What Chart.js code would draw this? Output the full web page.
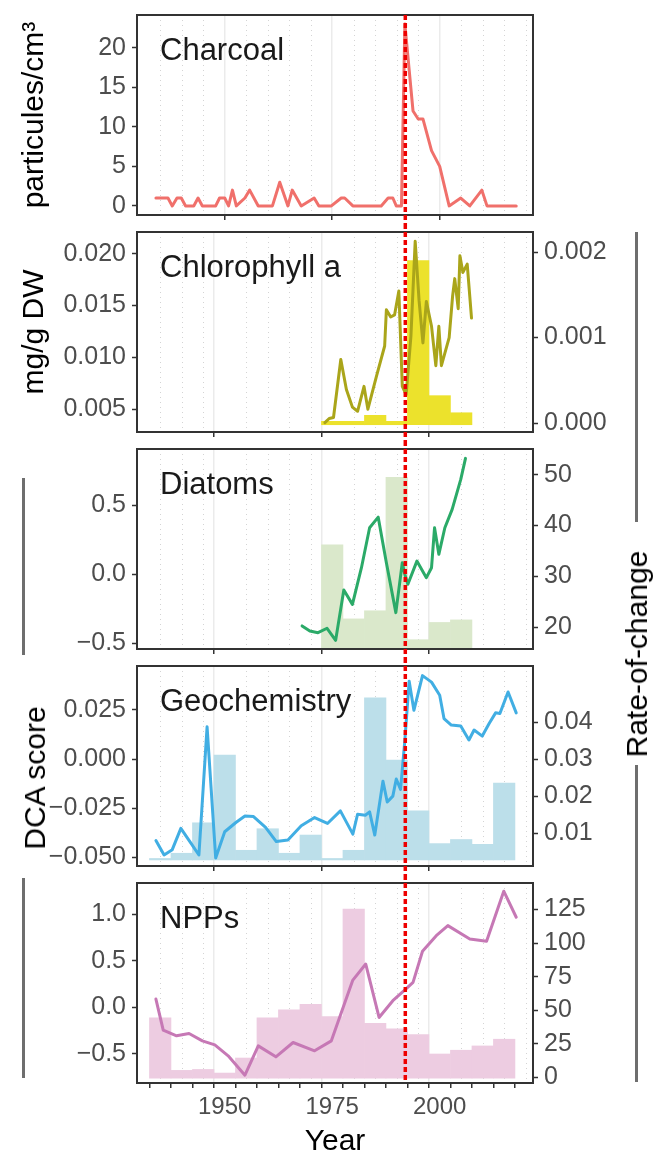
<!DOCTYPE html>
<html>
<head>
<meta charset="utf-8">
<script src="https://cdn.jsdelivr.net/npm/chart.js@4.4.1/dist/chart.umd.min.js"></script>
<style>
  body { margin: 0; background: #fff; width: 658px; height: 1153px; position: relative; overflow: hidden;
         font-family: "Liberation Sans", Arial, sans-serif; }
  canvas { position: absolute; left: 0; }
  .bar { position: absolute; width: 3px; background: #6e6e6e; }
  .side { position: absolute; font-size: 30px; color: #000; white-space: nowrap;
          transform: translate(-50%, -50%) rotate(-90deg); }
</style>
</head>
<body>
<canvas id="c1" width="658" height="224" style="top:0px"></canvas>
<canvas id="c2" width="658" height="217" style="top:224px"></canvas>
<canvas id="c3" width="658" height="217" style="top:441px"></canvas>
<canvas id="c4" width="658" height="217" style="top:658px"></canvas>
<canvas id="c5" width="658" height="285" style="top:875px"></canvas>

<div class="bar" style="left:22px;top:478px;height:177px"></div>
<div class="bar" style="left:22px;top:878px;height:200px"></div>
<div class="side" style="left:35px;top:778px">DCA score</div>

<div class="bar" style="left:635px;top:232px;height:290px"></div>
<div class="bar" style="left:635px;top:765px;height:317px"></div>
<div class="side" style="left:637px;top:654px">Rate-of-change</div>

<script>
// ---------------------------------------- data ----------------------------------------
const eventYear = 1992;
const xTickYears = [1935, 1940, 1945, 1950, 1955, 1960, 1965, 1970, 1975, 1980, 1985, 1990, 1995, 2000, 2005, 2010, 2015, 2020];
const xTickLabels = ['1950', '1975', '2000'];

// charcoal (particules/cm3)
const charcoalYears = [1934.0, 1936.8, 1937.8, 1938.9, 1939.9, 1940.9, 1942.8, 1943.8, 1944.8, 1947.9,
  1948.8, 1950.0, 1950.9, 1951.8, 1952.7, 1954.7, 1955.8, 1957.8, 1961.1, 1962.8,
  1964.7, 1965.7, 1967.8, 1970.8, 1971.9, 1974.8, 1977.1, 1977.9, 1979.8, 1986.4,
  1988.0, 1989.1, 1989.9, 1991.1, 1991.9, 1993.8, 1995.0, 1996.1, 1998.1, 2000.0,
  2002.2, 2004.9, 2007.0, 2009.8, 2011.0, 2017.8];
const charcoalValues = [1, 1, 0, 1, 1, 0, 0, 1, 0, 0,
  1, 1, 0, 2, 0, 1, 2, 0, 0, 3,
  0, 2, 0, 1, 0, 0, 1, 1, 0, 0,
  1, 1, 0, 0, 23, 12, 11, 11, 7, 5,
  0, 1, 0, 2, 0, 0];

// chlorophyll a (mg/g DW)
const chlYears = [1973.3, 1974.3, 1975.3, 1977.0, 1978.3, 1979.7, 1980.9, 1982.4, 1983.3, 1985.3,
  1987.2, 1987.6, 1988.6, 1989.5, 1990.5, 1991.3, 1992.2, 1993.3, 1994.3, 1995.2,
  1996.1, 1996.9, 1998.1, 1999.1, 1999.8, 2000.4, 2002.2, 2003.0, 2003.5, 2004.3,
  2004.7, 2005.4, 2006.4, 2007.4];
const chlValues = [0.0037, 0.0041, 0.0042, 0.0098, 0.0069, 0.0052, 0.0048, 0.0072, 0.0050, 0.0082,
  0.0111, 0.0146, 0.0139, 0.0141, 0.0164, 0.0072, 0.0064, 0.0120, 0.0212, 0.0155,
  0.0114, 0.0154, 0.0130, 0.0092, 0.0130, 0.0092, 0.0119, 0.0159, 0.0176, 0.0147,
  0.0198, 0.0182, 0.0190, 0.0138];
const chlRocBins = [1975, 1980, 1985, 1990, 1995, 2000, 2005];
const chlRocValues = [0.00002, 0.00002, 0.00009, 0.00002, 0.0019, 0.00032, 0.00012];

// diatoms (DCA score)
const diatomYears = [1968.0, 1969.8, 1971.7, 1973.8, 1975.8, 1977.7, 1979.7, 1981.8, 1983.7, 1985.7,
  1987.6, 1989.8, 1991.3, 1991.9, 1992.6, 1994.7, 1996.9, 1998.1, 1998.8, 1999.8,
  2001.2, 2002.9, 2004.9, 2006.0];
const diatomValues = [-0.373, -0.410, -0.422, -0.390, -0.477, -0.113, -0.217, 0.048, 0.337, 0.414,
  0.084, -0.277, 0.084, 0.000, -0.072, 0.096, -0.024, 0.048, 0.337, 0.145,
  0.337, 0.470, 0.687, 0.839];
const diatomRocBins = [1975, 1980, 1985, 1990, 1995, 2000, 2005];
const diatomRocValues = [36.2, 21.6, 23.2, 49.5, 17.5, 20.9, 21.4];

// geochemistry (DCA score)
const geoYears = [1934.0, 1935.9, 1937.8, 1939.8, 1941.9, 1944.0, 1945.9, 1947.9, 1950.0, 1952.6,
  1954.7, 1956.7, 1959.5, 1962.0, 1964.7, 1967.8, 1970.9, 1973.9, 1976.9, 1979.8,
  1980.9, 1982.7, 1983.7, 1984.9, 1986.8, 1987.8, 1989.1, 1989.9, 1990.9, 1991.9,
  1992.9, 1994.0, 1996.0, 1998.1, 2000.0, 2001.0, 2002.7, 2004.9, 2006.8, 2008.0,
  2009.9, 2011.5, 2013.0, 2014.0, 2015.9, 2017.8];
const geoValues = [-0.0414, -0.0487, -0.0460, -0.0352, -0.0419, -0.0487, 0.0164, -0.0502, -0.0369, -0.0322,
  -0.0289, -0.0292, -0.0347, -0.0419, -0.0411, -0.0339, -0.0297, -0.0327, -0.0263, -0.0381,
  -0.0280, -0.0285, -0.0268, -0.0386, -0.0112, -0.0218, -0.0188, -0.0101, -0.0154, 0.0097,
  0.0396, 0.0248, 0.0424, 0.0391, 0.0324, 0.0206, 0.0173, 0.0168, 0.0097, 0.0148,
  0.0117, 0.0181, 0.0235, 0.0232, 0.0341, 0.0235];
const geoRocBins = [1935, 1940, 1945, 1950, 1955, 1960, 1965, 1970, 1975, 1980, 1985, 1990, 1995, 2000, 2005, 2010, 2015];
const geoRocValues = [0.0033, 0.0047, 0.0129, 0.0311, 0.0055, 0.0113, 0.0047, 0.0096, 0.0033, 0.0055,
  0.0465, 0.0298, 0.0161, 0.0073, 0.0084, 0.0071, 0.0236];

// NPPs (DCA score)
const nppYears = [1934.0, 1935.7, 1938.8, 1941.7, 1944.8, 1947.7, 1950.8, 1954.7, 1957.8, 1961.9,
  1965.9, 1970.9, 1974.8, 1979.8, 1982.8, 1985.9, 1989.1, 1992.1, 1993.8, 1996.0,
  1999.2, 2001.9, 2007.0, 2010.9, 2014.9, 2017.8];
const nppValues = [0.090, -0.244, -0.305, -0.280, -0.359, -0.402, -0.520, -0.728, -0.413, -0.531,
  -0.377, -0.466, -0.359, 0.294, 0.466, -0.108, 0.072, 0.197, 0.269, 0.603,
  0.771, 0.879, 0.736, 0.710, 1.249, 0.969];
const nppRocBins = [1935, 1940, 1945, 1950, 1955, 1960, 1965, 1970, 1975, 1980, 1985, 1990, 1995, 2000, 2005, 2010, 2015];
const nppRocValues = [44.5, 5.3, 6.0, 3.3, 14.5, 44.5, 50.3, 54.5, 45.3, 125.3,
  40.3, 36.3, 32.0, 17.5, 20.3, 23.5, 28.5];

// tick labels
const charcoalTicks = ['0', '5', '10', '15', '20'];
const chlTicks = ['0.005', '0.010', '0.015', '0.020'];
const chlRocTicks = ['0.000', '0.001', '0.002'];
const diatomTicks = ['\u22120.5', '0.0', '0.5'];
const diatomRocTicks = ['20', '30', '40', '50'];
const geoTicks = ['\u22120.050', '\u22120.025', '0.000', '0.025'];
const geoRocTicks = ['0.01', '0.02', '0.03', '0.04'];
const nppTicks = ['\u22120.5', '0.0', '0.5', '1.0'];
const nppRocTicks = ['0', '25', '50', '75', '100', '125'];

// ---------------------------------------- setup ----------------------------------------
Chart.defaults.font.family = '"Liberation Sans", Arial, sans-serif';
Chart.defaults.color = '#4d4d4d';

const xMin = 1929.6, xMax = 2021.7;
const isMajor = v => xTickLabels.includes(String(v));
const toNum = l => parseFloat(l.replace('\u2212', '-'));

// grid dots, panel label, frame and the red event line
const panelDecor = {
  id: 'panelDecor',
  beforeDatasetsDraw(chart) {
    const {ctx, chartArea: a, scales: {x}} = chart;
    ctx.save();
    ctx.strokeStyle = '#d4d4d4';
    ctx.lineWidth = 1;
    ctx.setLineDash([1, 4]);
    x.ticks.forEach(t => {
      if (isMajor(t.value)) return;
      const px = Math.round(x.getPixelForValue(t.value)) + 0.5;
      ctx.beginPath();
      ctx.moveTo(px, a.top);
      ctx.lineTo(px, a.bottom);
      ctx.stroke();
    });
    ctx.restore();
  },
  afterDatasetsDraw(chart, args, opts) {
    const {ctx, chartArea: a, scales: {x}} = chart;
    ctx.save();
    ctx.font = '31px "Liberation Sans", Arial, sans-serif';
    ctx.fillStyle = '#1a1a1a';
    ctx.textBaseline = 'alphabetic';
    ctx.fillText(opts.label, a.left + 23, a.top + 45);

    ctx.strokeStyle = '#333333';
    ctx.lineWidth = 2;
    ctx.strokeRect(a.left, a.top, a.right - a.left, a.bottom - a.top);

    const rx = x.getPixelForValue(eventYear);
    ctx.strokeStyle = '#ee0000';
    ctx.lineWidth = 3.5;
    ctx.setLineDash([5, 3]);
    ctx.beginPath();
    ctx.moveTo(rx, opts.first ? a.top : 0);
    ctx.lineTo(rx, opts.last ? a.bottom : chart.height);
    ctx.stroke();
    ctx.restore();
  }
};

// no label overhang padding, so the plot frames land where the reference has them
function noPad(s) {
  s.paddingTop = 0; s.paddingBottom = 0; s.paddingLeft = 0; s.paddingRight = 0;
}

function xScale(last) {
  return {
    type: 'linear', min: xMin, max: xMax, offset: false,
    afterBuildTicks: s => { s.ticks = xTickYears.map(v => ({value: v})); },
    ticks: {
      display: last, autoSkip: false, maxRotation: 0, padding: 5,
      color: '#4d4d4d', font: {size: 24},
      callback: v => isMajor(v) ? String(v) : ''
    },
    grid: {
      color: c => (c.tick && isMajor(c.tick.value)) ? '#ebebeb' : 'rgba(0,0,0,0)',
      lineWidth: 1.5, tickLength: 5, tickWidth: 1.5,
      tickColor: c => (last || (c.tick && isMajor(c.tick.value))) ? '#333333' : 'rgba(0,0,0,0)'
    },
    border: {display: false},
    title: {display: last, text: 'Year', color: '#000', font: {size: 30}, padding: 0},
    afterFit: s => { s.height = last ? 77 : 9; noPad(s); }
  };
}

function yScale(pos, min, max, labels, title) {
  return {
    type: 'linear', position: pos, min: min, max: max, beginAtZero: false,
    afterBuildTicks: s => { s.ticks = labels.map(l => ({value: toNum(l)})); },
    ticks: {color: '#4d4d4d', font: {size: 25}, padding: 6, autoSkip: false, callback: (v, i) => labels[i]},
    grid: {drawOnChartArea: false, tickLength: 5, tickWidth: 1.5, tickColor: '#333333'},
    border: {display: false},
    title: title ? {display: true, text: title, color: '#000', font: {size: 30}, padding: {top: 17, bottom: 0}}
                 : {display: false},
    afterFit: s => { s.width = pos === 'left' ? 137 : 125; noPad(s); }
  };
}

function makePanel(id, p) {
  let datasets = [{
    type: 'line',
    data: p.years.map((yr, i) => ({x: yr, y: p.values[i]})),
    borderColor: p.color, borderWidth: 3, pointRadius: 0, tension: 0,
    borderJoinStyle: 'round', borderCapStyle: 'round',
    yAxisID: 'y', order: 1
  }];
  let scales = {
    x: xScale(p.last),
    y: yScale('left', p.yMin, p.yMax, p.ticks, p.title)
  };
  if (p.rocBins) {
    datasets.push({
      type: 'bar',
      data: p.rocBins.map((yr, i) => ({x: yr, y: p.rocValues[i]})),
      backgroundColor: p.barColor, borderWidth: 0, base: p.rocBase,
      barPercentage: 1, categoryPercentage: 1,
      yAxisID: 'yR', order: 2
    });
    scales.yR = yScale('right', p.rMin, p.rMax, p.rocTicks, null);
  }
  new Chart(document.getElementById(id), {
    type: 'line',
    data: {datasets: datasets},
    options: {
      responsive: false, animation: false, devicePixelRatio: 1, events: [],
      layout: {padding: {top: p.first ? 15 : 8, right: p.rocBins ? 0 : 125, left: 0, bottom: 0}},
      scales: scales,
      plugins: {
        legend: {display: false}, tooltip: {enabled: false},
        panelDecor: {label: p.label, first: !!p.first, last: !!p.last}
      }
    },
    plugins: [panelDecor]
  });
}

// ---------------------------------------- panels ----------------------------------------
makePanel('c1', {
  label: 'Charcoal', first: true, title: 'particules/cm\u00B3',
  years: charcoalYears, values: charcoalValues, color: '#f0706b',
  yMin: -1.15, yMax: 24.15, ticks: charcoalTicks
});

makePanel('c2', {
  label: 'Chlorophyll a', title: 'mg/g DW',
  years: chlYears, values: chlValues, color: '#aaa51a',
  yMin: 0.0028, yMax: 0.0221, ticks: chlTicks,
  rocBins: chlRocBins, rocValues: chlRocValues, rocBase: -0.00002, barColor: '#ece22c',
  rMin: -0.000105, rMax: 0.002234, rocTicks: chlRocTicks
});

makePanel('c3', {
  label: 'Diatoms',
  years: diatomYears, values: diatomValues, color: '#2baa68',
  yMin: -0.540, yMax: 0.907, ticks: diatomTicks,
  rocBins: diatomRocBins, rocValues: diatomRocValues, rocBase: 15.9, barColor: '#dae8cb',
  rMin: 15.67, rMax: 55.06, rocTicks: diatomRocTicks
});

makePanel('c4', {
  label: 'Geochemistry',
  years: geoYears, values: geoValues, color: '#41aee3',
  yMin: -0.0543, yMax: 0.0473, ticks: geoTicks,
  rocBins: geoRocBins, rocValues: geoRocValues, rocBase: 0.0029, barColor: '#bcdfea',
  rMin: 0.00127, rMax: 0.0551, rocTicks: geoRocTicks
});

makePanel('c5', {
  label: 'NPPs', last: true,
  years: nppYears, values: nppValues, color: '#c678b5',
  yMin: -0.812, yMax: 1.337, ticks: nppTicks,
  rocBins: nppRocBins, rocValues: nppRocValues, rocBase: -0.5, barColor: '#edcce1',
  rMin: -4.1, rMax: 144.8, rocTicks: nppRocTicks
});
</script>
</body>
</html>
